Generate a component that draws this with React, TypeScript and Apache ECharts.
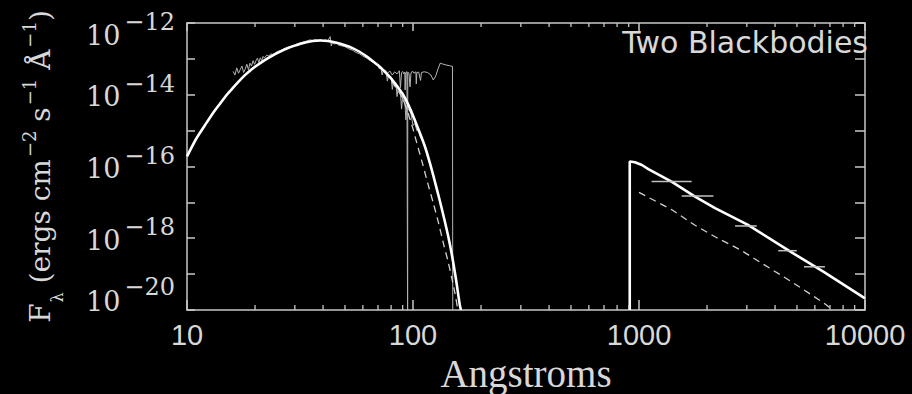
import React, { useEffect, useRef } from 'react';
import * as echarts from 'echarts';

const X_MIN = 10;
const X_MAX = 10000;
const Y_MIN = 1e-20;
const Y_MAX = 1e-12;

const xTickValues = [10, 100, 1000, 10000];
const xTickLabels = ['10', '100', '1000', '10000'];
const xMinorTicks = [20, 30, 40, 50, 60, 70, 80, 90, 200, 300, 400, 500, 600, 700, 800, 900, 2000, 3000, 4000, 5000, 6000, 7000, 8000, 9000];
const yLabelExponents = [-12, -14, -16, -18, -20];

// two-blackbody model (solid), EUV/X-ray side
const modelSoft: [number, number][] = [
  [10, 1.91e-16], [11, 6.03e-16], [12, 1.41e-15], [13, 3.02e-15], [14, 5.62e-15], [15, 1.0e-14],
  [16, 1.58e-14], [17, 2.4e-14], [18, 3.47e-14], [19, 4.68e-14], [20, 6.03e-14], [22, 9.12e-14],
  [24, 1.26e-13], [26, 1.62e-13], [28, 2.0e-13], [30, 2.34e-13], [33, 2.82e-13], [36, 3.16e-13],
  [39, 3.24e-13], [42, 3.16e-13], [46, 2.82e-13], [50, 2.4e-13], [54, 2.0e-13], [58, 1.58e-13],
  [62, 1.2e-13], [66, 8.91e-14], [70, 6.61e-14], [74, 4.79e-14], [78, 3.39e-14], [82, 2.34e-14],
  [86, 1.58e-14], [90, 1.05e-14], [94, 6.31e-15], [98, 3.55e-15], [102, 1.91e-15], [107, 8.91e-16],
  [113, 3.55e-16], [119, 1.2e-16], [125, 3.8e-17], [131, 1.2e-17], [137, 3.8e-18], [143, 1.17e-18],
  [149, 3.16e-19], [155, 7.08e-20], [161, 1.41e-20], [163, 1.0e-20],
];

// model (solid), optical/UV side
const modelUv: [number, number][] = [
  [910, 1e-20], [910, 1.38e-16], [960, 1.32e-16], [1030, 1.1e-16], [1100, 8.5e-17], [1393, 3.8e-17],
  [1770, 1.45e-17], [2170, 6.9e-18], [3035, 2.35e-18], [4660, 4.3e-19], [6540, 1.17e-19], [10000, 2.1e-20],
];

// second component (dashed)
const compSoft: [number, number][] = [
  [75, 4.37e-14], [80, 2.51e-14], [85, 1.41e-14], [90, 7.94e-15], [95, 3.16e-15], [100, 1.12e-15],
  [104, 4.47e-16], [110, 1.26e-16], [116, 3.55e-17], [123, 9.55e-18], [130, 2.51e-18], [137, 6.31e-19],
  [143, 2.24e-19], [148, 8.51e-20], [153, 3.16e-20], [158, 1.0e-20],
];
const compUv: [number, number][] = [
  [1000, 1.9e-17], [1393, 6.3e-18], [1770, 2.3e-18], [2170, 1.1e-18], [2800, 4.8e-19],
  [4660, 6.5e-20], [6540, 1.6e-20], [7200, 1.0e-20],
];

// observed spectrum (thin)
const specA: [number, number][] = [
  [16.0, 4.47e-14], [16.3, 3.55e-14], [16.6, 5.62e-14], [16.9, 3.98e-14], [17.2, 5.01e-14], [17.5, 6.31e-14],
  [17.8, 4.17e-14], [18.1, 5.25e-14], [18.4, 7.08e-14], [18.7, 5.01e-14], [19.0, 7.59e-14], [19.3, 6.31e-14],
  [19.6, 8.91e-14], [19.9, 7.08e-14], [20.2, 8.91e-14], [20.5, 1.05e-13], [20.8, 7.94e-14], [21.1, 1.07e-13],
  [21.4, 8.91e-14], [21.7, 1.17e-13], [22.0, 1.05e-13], [22.5, 1.26e-13], [23.0, 1.2e-13], [23.5, 1.38e-13],
  [24, 1.32e-13], [25, 1.58e-13], [26, 1.74e-13], [27, 1.91e-13], [28, 2.09e-13], [29, 2.29e-13],
  [30, 2.45e-13], [31, 2.69e-13], [32, 2.82e-13], [33, 3.02e-13], [34, 3.16e-13], [35, 3.39e-13],
  [36, 3.24e-13], [37, 3.47e-13], [38, 3.31e-13], [39, 3.47e-13], [40, 3.16e-13], [41, 3.39e-13],
  [42, 3.16e-13], [43, 4.17e-13], [43.5, 2.29e-13], [44, 2.82e-13], [45, 2.63e-13], [46, 2.69e-13],
  [47, 2.4e-13], [48, 2.34e-13], [50, 2.19e-13], [52, 1.91e-13], [54, 1.74e-13], [56, 1.51e-13],
  [58, 1.38e-13], [60, 1.2e-13], [62, 1.07e-13], [64, 9.33e-14], [66, 8.32e-14], [68, 7.59e-14],
  [70, 6.76e-14], [71, 5.25e-14], [72, 5.89e-14], [73, 3.55e-14], [74, 5.01e-14], [75, 4.17e-14],
  [76, 4.37e-14], [77, 2.4e-14], [78, 3.55e-14], [79, 3.02e-14], [80, 3.16e-14], [81, 1.41e-14],
  [82, 2.51e-14], [83, 2.09e-14], [84, 2.19e-14], [85, 8.91e-15], [86, 1.58e-14], [87, 1.17e-14],
  [88, 1.2e-14], [89, 3.98e-15], [90, 8.91e-15], [91, 6.31e-15], [92, 7.08e-15], [93, 2.0e-15],
  [94, 5.01e-15], [95, 3.8e-15], [96, 3.98e-15], [98, 2.82e-15], [100, 1.41e-15], [102, 1.58e-15],
  [104, 1.0e-15], [106, 1.07e-15], [108, 6.31e-16],
];
const specB: [number, number][] = [
  [75, 5.01e-14], [77, 3.98e-14], [79, 4.57e-14], [81, 3.55e-14], [83, 4.37e-14], [85, 3.8e-14],
  [87, 4.68e-14], [88, 1.58e-14], [89, 4.17e-14], [90, 4.47e-14], [91, 3.8e-14], [92, 4.27e-14],
  [92.3, 1.35e-14], [93, 4.17e-14], [94, 4.37e-14], [94.7, 1e-21], [94.8, 4.27e-14], [96, 3.98e-14],
  [97, 1.66e-14], [98, 4.17e-14], [100, 4.47e-14], [101, 3.98e-14], [103, 4.37e-14], [103.4, 2.0e-14],
  [104, 4.17e-14], [106, 4.27e-14], [108, 2.51e-14], [109, 4.17e-14], [112, 4.37e-14], [116, 4.17e-14],
  [120, 3.55e-14], [123, 2.57e-14], [126, 3.31e-14], [129, 5.25e-14], [132, 7.59e-14], [135, 7.24e-14],
  [140, 6.76e-14], [145, 6.46e-14], [149.5, 6.17e-14], [150, 1e-21],
];

// broad-band photometry (horizontal bars)
const binLo = [1137, 1545, 2660, 4130, 5370];
const binHi = [1710, 2135, 3320, 4990, 6650];
const binFlux = [3.8e-17, 1.5e-17, 2.2e-18, 4.5e-19, 1.6e-19];

const AXIS = '#c8c8c8';
const TEXT = '#d8d8d8';
const SERIF = '"DejaVu Serif", "Liberation Serif", serif';
const TSERIF = '"Liberation Serif", "DejaVu Serif", serif';
const SANS = '"Liberation Sans", "DejaVu Sans", sans-serif';

function yLabelRich() {
  const base = (pt: number) => ({ fontSize: 27, fontFamily: SERIF, color: TEXT, lineHeight: 80, verticalAlign: 'top', padding: [pt, 0, 0, 0] });
  const sup = (pt: number) => ({ fontSize: 24, fontFamily: SERIF, color: TEXT, lineHeight: 80, verticalAlign: 'top', padding: [pt, 0, 0, 4] });
  return { bM: base(28.5), sM: sup(17), bT: base(38.5), sT: sup(26.5), bB: base(17.5), sB: sup(4.5) };
}

export default function App() {
  const ref = useRef<HTMLDivElement>(null);
  useEffect(() => {
    if (!ref.current) return;
    const chart = echarts.init(ref.current, null, { renderer: 'svg' });
    const tickStyle = { color: AXIS, width: 1.5 };
    const option: any = {
      animation: false,
      backgroundColor: '#000',
      grid: { left: 187, right: 47, top: 23, bottom: 84, containLabel: false, outerBoundsMode: 'none' },
      xAxis: [
        {
          type: 'log', logBase: 10, min: X_MIN, max: X_MAX, position: 'bottom',
          axisLine: { show: true, onZero: false, lineStyle: { color: AXIS, width: 1.5 } },
          axisTick: { show: true, inside: true, length: 10, lineStyle: tickStyle },
          splitLine: { show: false }, minorTick: { show: false },
          axisLabel: {
            show: true, color: TEXT, fontSize: 29, fontFamily: SANS, margin: 10, showMinLabel: true, showMaxLabel: true,
            formatter: (v: number) => {
              const i = xTickValues.findIndex((t) => Math.abs(t - v) / t < 1e-6);
              return i >= 0 ? xTickLabels[i] : '';
            },
          },
          name: 'Angstroms', nameLocation: 'middle', nameGap: 42,
          nameTextStyle: { color: TEXT, fontSize: 39, fontFamily: TSERIF },
        },
        {
          type: 'log', logBase: 10, min: X_MIN, max: X_MAX, position: 'top',
          axisLine: { show: true, onZero: false, lineStyle: { color: AXIS, width: 1.5 } },
          axisTick: { show: true, inside: true, length: 8, lineStyle: tickStyle },
          axisLabel: { show: false }, splitLine: { show: false },
        },
      ],
      yAxis: [
        {
          type: 'log', logBase: 10, min: Y_MIN, max: Y_MAX, position: 'left',
          axisLine: { show: true, onZero: false, lineStyle: { color: AXIS, width: 1.5 } },
          axisTick: { show: true, inside: true, length: 8, lineStyle: tickStyle },
          splitLine: { show: false },
          axisLabel: {
            show: true, margin: 12, showMinLabel: true, showMaxLabel: true, color: TEXT,
            formatter: (v: number) => {
              const e = Math.round(Math.log10(v));
              if (!yLabelExponents.includes(e)) return '';
              const k = e === yLabelExponents[0] ? 'T' : e === yLabelExponents[yLabelExponents.length - 1] ? 'B' : 'M';
              return `{b${k}|10}{s${k}|\u2212${-e}}`;
            },
            rich: yLabelRich(),
          },
          name: '{b|F}{sub|\u03bb}{b| (ergs cm}{sup|\u22122}{b| s}{sup|\u22121}{b| \u00c5}{sup|\u22121}{b|)}',
          nameLocation: 'middle', nameRotate: 90, nameGap: 117,
          nameTextStyle: {
            color: TEXT, lineHeight: 60,
            rich: {
              b: { fontSize: 28, fontFamily: SERIF, color: TEXT, lineHeight: 60, verticalAlign: 'middle', padding: [0, 0, 0, 0] },
              sup: { fontSize: 18, fontFamily: SERIF, color: TEXT, lineHeight: 60, verticalAlign: 'middle', padding: [0, 0, 22, 2] },
              sub: { fontSize: 16, fontFamily: SERIF, color: TEXT, lineHeight: 60, verticalAlign: 'middle', padding: [35, 0, 0, 1] },
            },
          },
        },
        {
          type: 'log', logBase: 10, min: Y_MIN, max: Y_MAX, position: 'right',
          axisLine: { show: true, onZero: false, lineStyle: { color: AXIS, width: 1.5 } },
          axisTick: { show: true, inside: true, length: 10, lineStyle: tickStyle },
          axisLabel: { show: false }, splitLine: { show: false },
        },
      ],
      graphic: [
        {
          type: 'text', x: 868, y: 42, z: 100,
          style: { text: 'Two Blackbodies', fill: TEXT, fontSize: 30, fontFamily: '"DejaVu Sans", sans-serif', align: 'right', verticalAlign: 'middle' },
        },
      ],
      series: [
        {
          type: 'line', name: 'spectrum', data: specA, symbol: 'none', showSymbol: false, z: 2,
          lineStyle: { color: '#b4b4b4', width: 1 },
        },
        {
          type: 'line', name: 'spectrum2', data: specB, symbol: 'none', showSymbol: false, z: 2,
          lineStyle: { color: '#b4b4b4', width: 1 },
        },
        {
          type: 'line', name: 'component', data: compSoft, symbol: 'none', showSymbol: false, z: 3, smooth: 0.2,
          lineStyle: { color: '#d0d0d0', width: 1.3, type: [7, 5] },
        },
        {
          type: 'line', name: 'componentUv', data: compUv, symbol: 'none', showSymbol: false, z: 3,
          lineStyle: { color: '#d0d0d0', width: 1.3, type: [7, 5] },
        },
        {
          type: 'line', name: 'model', data: modelSoft, symbol: 'none', showSymbol: false, z: 4, smooth: 0.25,
          lineStyle: { color: '#ffffff', width: 2.6 },
        },
        {
          type: 'line', name: 'modelUv', data: modelUv, symbol: 'none', showSymbol: false, z: 4,
          lineStyle: { color: '#ffffff', width: 2.6 },
        },
        {
          type: 'custom', name: 'bins', z: 5,
          data: binLo.map((lo, i) => [lo, binHi[i], binFlux[i]]),
          encode: { x: [0, 1], y: 2 },
          renderItem: (params: any, api: any) => {
            const a = api.coord([api.value(0), api.value(2)]);
            const b = api.coord([api.value(1), api.value(2)]);
            return { type: 'line', shape: { x1: a[0], y1: a[1], x2: b[0], y2: b[1] }, style: { stroke: '#c0c0c0', lineWidth: 1.5 } };
          },
        },
        {
          type: 'custom', name: 'minorTicks', z: 6, silent: true,
          data: xMinorTicks.map((v) => [v, Y_MIN]),
          encode: { x: 0, y: 1 },
          renderItem: (params: any, api: any) => {
            const x = api.value(0);
            const pb = api.coord([x, Y_MIN]);
            const pt = api.coord([x, Y_MAX]);
            const st = { stroke: AXIS, lineWidth: 1.3 };
            return {
              type: 'group',
              children: [
                { type: 'line', shape: { x1: pb[0], y1: pb[1], x2: pb[0], y2: pb[1] - 5 }, style: st },
                { type: 'line', shape: { x1: pt[0], y1: pt[1], x2: pt[0], y2: pt[1] + 4 }, style: st },
              ],
            };
          },
        },
      ],
    };
    chart.setOption(option);
    return () => chart.dispose();
  }, []);
  return (
    <div
      ref={ref}
      style={{ position: 'fixed', left: 0, top: 0, width: 912, height: 394, background: '#000' }}
    />
  );
}
